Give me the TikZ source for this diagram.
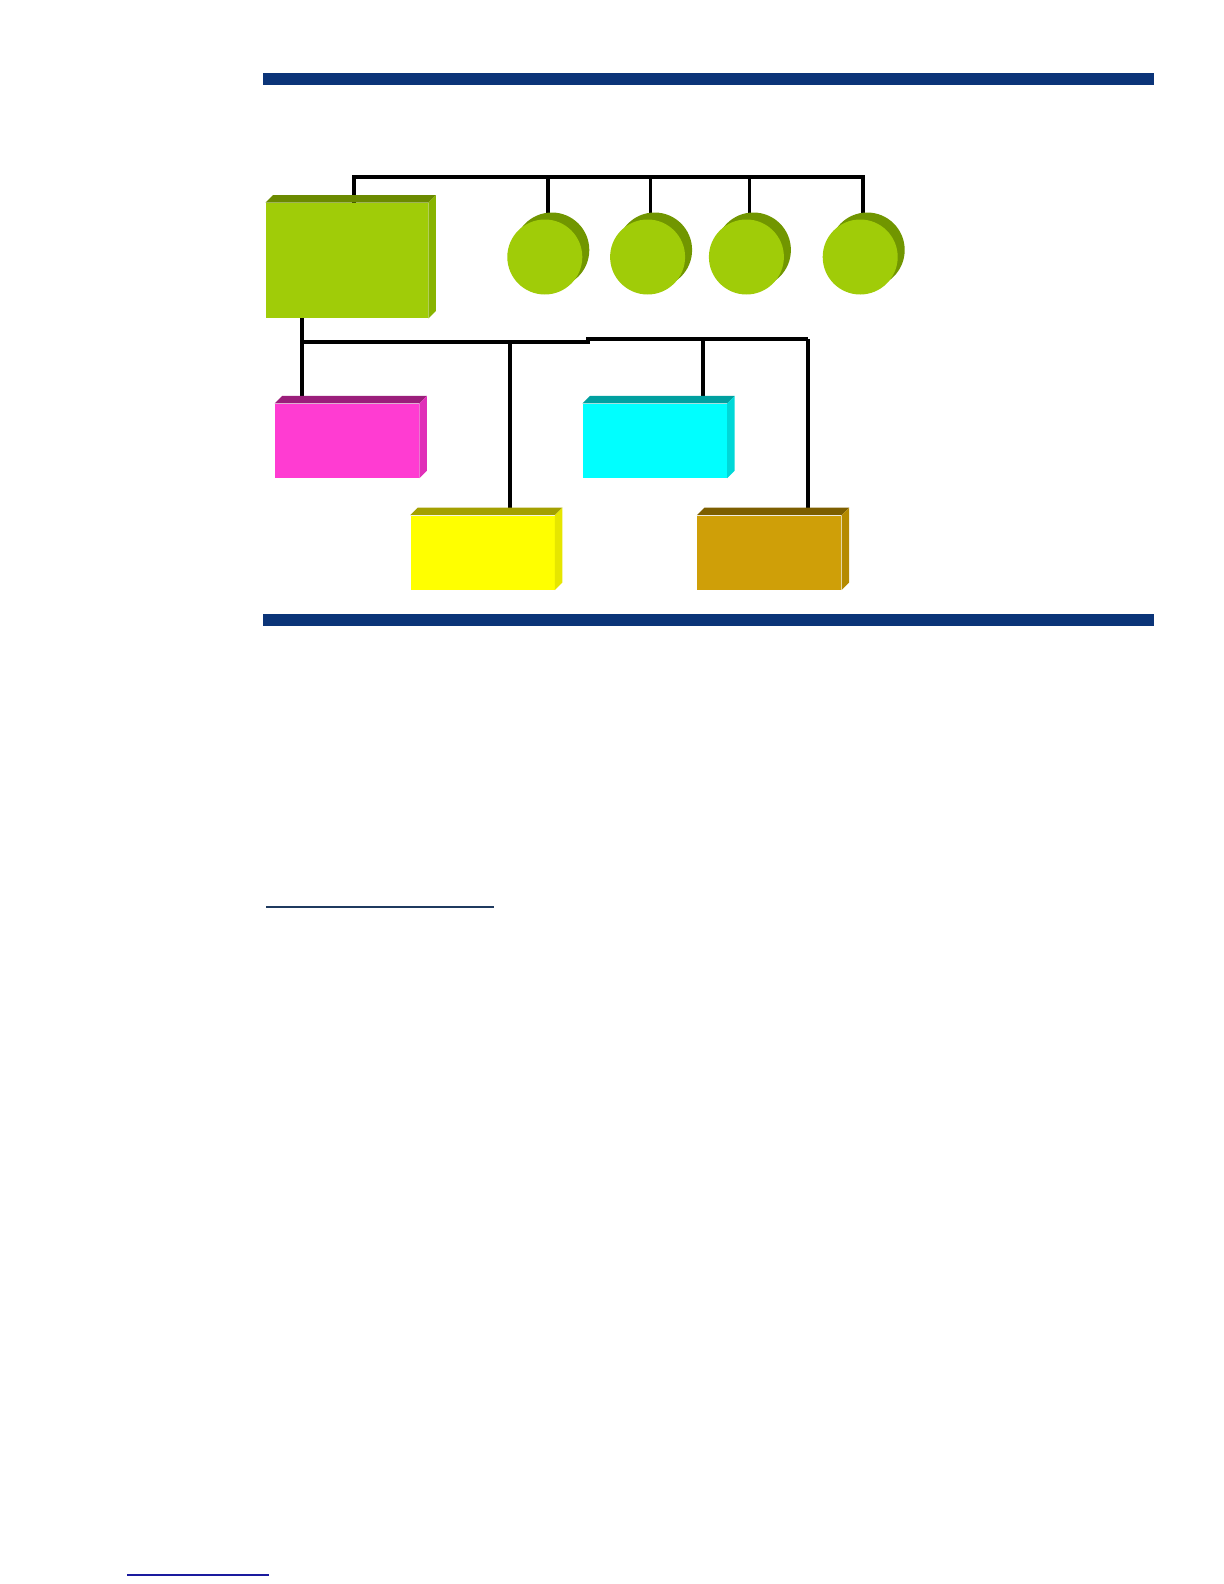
\documentclass[tikz,border=0pt]{standalone}
\usetikzlibrary{shapes, shadows, positioning, backgrounds}
\definecolor{barblue}{HTML}{0B3478}
\definecolor{rulenavy}{HTML}{1F3A5F}
\definecolor{footblue}{HTML}{1A1A9E}
\definecolor{olive}{HTML}{A0CC08}
\definecolor{olivetop}{HTML}{6B8A00}
\definecolor{oliveside}{HTML}{88B400}
\definecolor{ballback}{HTML}{719600}
\definecolor{pinkface}{HTML}{FF3CD2}
\definecolor{pinktop}{HTML}{9B1E7B}
\definecolor{pinkside}{HTML}{E02FB8}
\definecolor{yellowface}{HTML}{FFFF00}
\definecolor{yellowtop}{HTML}{A3A000}
\definecolor{yellowside}{HTML}{E6E600}
\definecolor{cyanface}{HTML}{00FFFF}
\definecolor{cyantop}{HTML}{00A0A0}
\definecolor{cyanside}{HTML}{00D8D8}
\definecolor{brownface}{HTML}{CF9F08}
\definecolor{browntop}{HTML}{7D5E00}
\definecolor{brownside}{HTML}{B58A00}
\tikzstyle{unit} = [rectangle, inner sep=0pt, minimum width=72pt, minimum height=37pt]
\tikzstyle{ball} = [circle, fill=olive, inner sep=0pt, minimum size=37.5pt, copy shadow={shadow xshift=3.5pt, shadow yshift=3.5pt, fill=ballback, draw=none}]
\tikzstyle{wire} = [draw, line width=1.75pt]
\tikzstyle{bar} = [fill=barblue]
% top and right faces of a box
\newcommand{\slab}[3]{
  \fill[#2] (#1.north west) -- ++(3.75pt,3.75pt) -- ([shift={(3.75pt,3.75pt)}]#1.north east) -- (#1.north east) -- cycle;
  \fill[#3] (#1.north east) -- ++(3.75pt,3.75pt) -- ([shift={(3.75pt,3.75pt)}]#1.south east) -- (#1.south east) -- cycle;
}

\begin{document}
\begin{tikzpicture}[x=0.5pt, y=-0.5pt]
    \useasboundingbox (0,0) rectangle (1224,1584);
    \fill[bar] (263,73) rectangle (1154,85);
    \fill[bar] (263,614) rectangle (1154,626);

    \node [unit, fill=olive, minimum width=81pt, minimum height=57.5pt] (ctrl) at (347,260.5) {};
    \node [ball, right=39.25pt of ctrl, yshift=1.75pt] (d1) {};
    \node [ball, right=13.5pt of d1] (d2) {};
    \node [ball, right=11.5pt of d2] (d3) {};
    \node [ball, right=19pt of d3] (d4) {};
    \node [unit, fill=pinkface, below=42.5pt of ctrl] (print) {};
    \node [unit, fill=cyanface, right=81.5pt of print] (scan) {};
    \node [unit, fill=yellowface, below=18.5pt of print, xshift=67.75pt] (tape) {};
    \node [unit, fill=brownface, right=71pt of tape] (term) {};

    \slab{ctrl}{olivetop}{oliveside}
    \slab{print}{pinktop}{pinkside}
    \slab{scan}{cyantop}{cyanside}
    \slab{tape}{yellowtop}{yellowside}
    \slab{term}{browntop}{brownside}

    \begin{scope}[on background layer]
      \coordinate (tb) at (0,177);
      \path ([xshift=3.5pt]ctrl.north) coordinate (cw);
      \foreach \i in {1,...,4}
        \path ([xshift=1.5pt]d\i.north) coordinate (d\i w);
      \path [wire] (cw) |- (d4w |- tb) -- (d4w);
      \foreach \i in {1,2,3}
        \path [wire] (d\i w |- tb) -- (d\i w);

      \coordinate (j1) at (302,342);
      \coordinate (j2) at (590,342);
      \coordinate (j3) at (586,339);
      \coordinate (j4) at (808,339);
      \coordinate (j5) at (510,342);
      \coordinate (j6) at (703,339);
      \path [wire] (ctrl.south -| j1) -- (print.north -| j1);
      \path [wire] (j1) -- (j2);
      \path [wire] (j3) -- (j4);
      \path [wire] (j5) -- (tape.north -| j5);
      \path [wire] (j6) -- (scan.north -| j6);
      \path [wire] (j4) -- (term.north -| j4);
    \end{scope}

    \draw [rulenavy, line width=1pt] (266,907) -- (494,907);
    \draw [footblue, line width=1pt] (127,1575) -- (269,1575);
\end{tikzpicture}
\end{document}
